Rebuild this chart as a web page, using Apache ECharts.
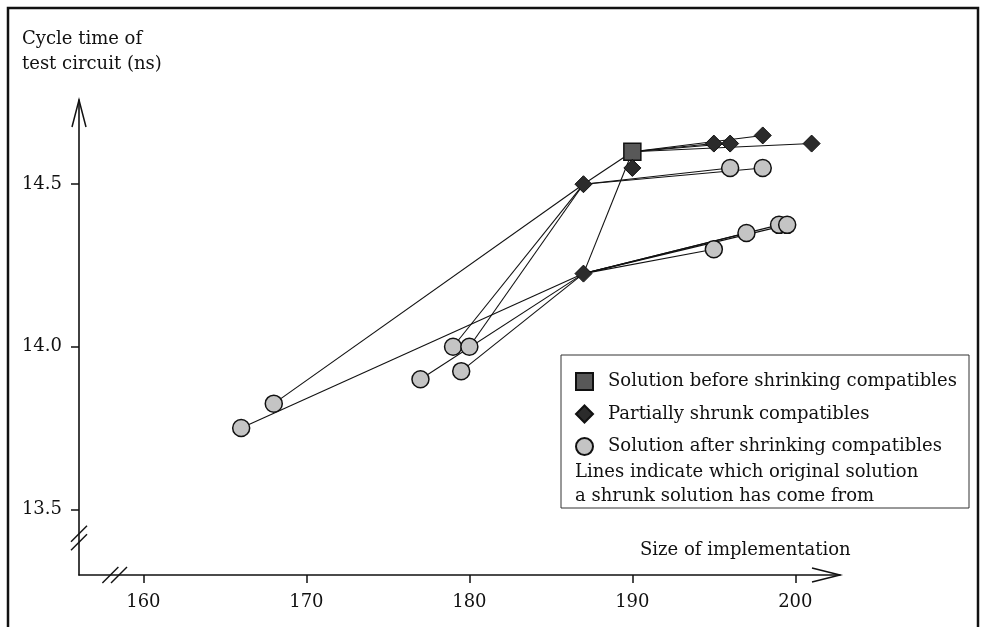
<!DOCTYPE html>
<html>
<head>
<meta charset="utf-8">
<script src="https://cdn.jsdelivr.net/npm/echarts@6/dist/echarts.min.js"></script>
<style>
  html, body { margin: 0; padding: 0; background: #fff; }
  #chart { width: 986px; height: 627px; }
</style>
</head>
<body>
<div id="chart"></div>
<script>
// Solution before shrinking compatibles
const originalX = [190];
const originalY = [14.6];

// Partially shrunk compatibles
const partialX = [187, 190, 195, 196, 198, 201, 187];
const partialY = [14.5, 14.55, 14.625, 14.625, 14.65, 14.625, 14.225];

// Solutions after shrinking compatibles
const shrunkX = [196, 198, 195, 197, 199, 199.5, 179, 180, 179.5, 177, 168, 166];
const shrunkY = [14.55, 14.55, 14.3, 14.35, 14.375, 14.375, 14.0, 14.0, 13.925, 13.9, 13.825, 13.75];

// Lineage links: [from index, to index]
const originalToPartial = [[0, 0], [0, 1], [0, 2], [0, 3], [0, 4], [0, 5], [0, 6]];
const partialToShrunk = [[0, 0], [0, 1], [0, 6], [0, 7], [0, 10],
                         [6, 2], [6, 3], [6, 4], [6, 5], [6, 8], [6, 9], [6, 11]];

// Axis ticks and extents
const xTicks = [160, 170, 180, 190, 200];
const yTicks = [13.5, 14.0, 14.5];
const xRange = [156.05, 202.74];
const yRange = [13.298, 14.759];
const xBreak = 158.24;
const yBreak = 13.412;

const seriesNames = [
  'Solution before shrinking compatibles',
  'Partially shrunk compatibles',
  'Solution after shrinking compatibles'
];

const FONT = 'DejaVu Serif';
const FS = 18;
const INK = '#111';

const pts = (xs, ys) => xs.map((x, i) => [x, ys[i]]);
const linkData = [];
originalToPartial.forEach(([a, b]) => {
  linkData.push({ coords: [[originalX[a], originalY[a]], [partialX[b], partialY[b]]] });
});
partialToShrunk.forEach(([a, b]) => {
  linkData.push({ coords: [[partialX[a], partialY[a]], [shrunkX[b], shrunkY[b]]] });
});

const chart = echarts.init(document.getElementById('chart'), null, { renderer: 'canvas' });

const axisText = { fontFamily: FONT, fontSize: FS, color: INK };

chart.setOption({
  animation: false,
  backgroundColor: '#fff',
  grid: { left: 79, top: 100, width: 761, height: 475, containLabel: false },
  xAxis: {
    type: 'value',
    min: xRange[0], max: xRange[1],
    axisLine: { show: true, onZero: false, lineStyle: { color: INK, width: 1.6 } },
    axisTick: { show: true, customValues: xTicks, length: 8, lineStyle: { color: INK, width: 1.5 } },
    axisLabel: Object.assign({ customValues: xTicks, margin: 18, formatter: v => String(v) }, axisText),
    splitLine: { show: false }
  },
  yAxis: {
    type: 'value',
    min: yRange[0], max: yRange[1],
    axisLine: { show: true, onZero: false, lineStyle: { color: INK, width: 1.6 } },
    axisTick: { show: true, customValues: yTicks, length: 8, lineStyle: { color: INK, width: 1.5 } },
    axisLabel: Object.assign({ customValues: yTicks, margin: 17, formatter: v => v.toFixed(1) }, axisText),
    splitLine: { show: false }
  },
  legend: {
    orient: 'vertical',
    left: 575, top: 372,
    padding: 0,
    itemWidth: 17, itemHeight: 17, itemGap: 13.5,
    selectedMode: false,
    data: seriesNames,
    textStyle: { fontFamily: FONT, fontSize: FS, color: INK, lineHeight: 19, padding: [0, 0, 0, 10] }
  },
  series: [
    {
      type: 'lines',
      coordinateSystem: 'cartesian2d',
      silent: true,
      z: 1,
      lineStyle: { color: INK, width: 1.1, opacity: 1 },
      data: linkData
    },
    {
      name: seriesNames[0],
      type: 'scatter',
      symbol: 'rect',
      symbolSize: 17,
      z: 3,
      itemStyle: { color: '#585858', borderColor: INK, borderWidth: 1.5, opacity: 1 },
      data: pts(originalX, originalY)
    },
    {
      name: seriesNames[2],
      type: 'scatter',
      symbol: 'circle',
      symbolSize: 17,
      z: 3,
      itemStyle: { color: '#c4c4c4', borderColor: INK, borderWidth: 1.5, opacity: 1 },
      data: pts(shrunkX, shrunkY)
    },
    {
      name: seriesNames[1],
      type: 'scatter',
      symbol: 'diamond',
      symbolSize: 17,
      z: 4,
      itemStyle: { color: '#2b2b2b', borderColor: INK, borderWidth: 1, opacity: 1 },
      data: pts(partialX, partialY)
    }
  ]
});

// Decorations: frame, axis titles, arrowheads, axis breaks, legend box and note
const px = (x, y) => chart.convertToPixel({ gridIndex: 0 }, [x, y]);
const yTip = px(xRange[0], yRange[1]);
const xTip = px(xRange[1], yRange[0]);
const yBr = px(xRange[0], yBreak);
const xBr = px(xBreak, yRange[0]);

const stroke = (w) => ({ stroke: INK, lineWidth: w, fill: null });
const breakMarks = (c, vertical) => {
  const out = [];
  [-4.3, 4.3].forEach(off => {
    const cx = vertical ? c[0] : c[0] + off;
    const cy = vertical ? c[1] + off : c[1];
    out.push({ type: 'line', z: 10, silent: true,
      shape: { x1: cx - 8, y1: cy + 8, x2: cx + 8, y2: cy - 8 }, style: stroke(1.4) });
  });
  return out;
};

chart.setOption({
  graphic: [
    // figure frame
    { type: 'polyline', silent: true, z: 10,
      shape: { points: [[8, 627], [8, 8], [978, 8], [978, 627]] }, style: stroke(2.5) },
    // axis titles
    { type: 'text', left: 22, top: 27, silent: true,
      style: { text: 'Cycle time of\ntest circuit (ns)', font: `${FS}px "${FONT}"`, fill: INK, lineHeight: 25 } },
    { type: 'text', left: 640, top: 541, silent: true,
      style: { text: 'Size of implementation', font: `${FS}px "${FONT}"`, fill: INK } },
    // arrowheads
    { type: 'polyline', silent: true, z: 10,
      shape: { points: [[yTip[0] - 7, yTip[1] + 27], [yTip[0], yTip[1]], [yTip[0] + 7, yTip[1] + 27]] },
      style: stroke(1.5) },
    { type: 'polyline', silent: true, z: 10,
      shape: { points: [[xTip[0] - 28, xTip[1] - 7], [xTip[0], xTip[1]], [xTip[0] - 28, xTip[1] + 7]] },
      style: stroke(1.5) },
    ...breakMarks(yBr, true),
    ...breakMarks(xBr, false),
    // legend box and note
    { type: 'rect', silent: true, z: -1,
      shape: { x: 561, y: 355, width: 408, height: 153 },
      style: { fill: '#fff', stroke: '#333', lineWidth: 1 } },
    { type: 'text', left: 575, top: 460, silent: true,
      style: { text: 'Lines indicate which original solution\na shrunk solution has come from',
               font: `${FS}px "${FONT}"`, fill: INK, lineHeight: 24 } }
  ]
});
</script>
</body>
</html>
